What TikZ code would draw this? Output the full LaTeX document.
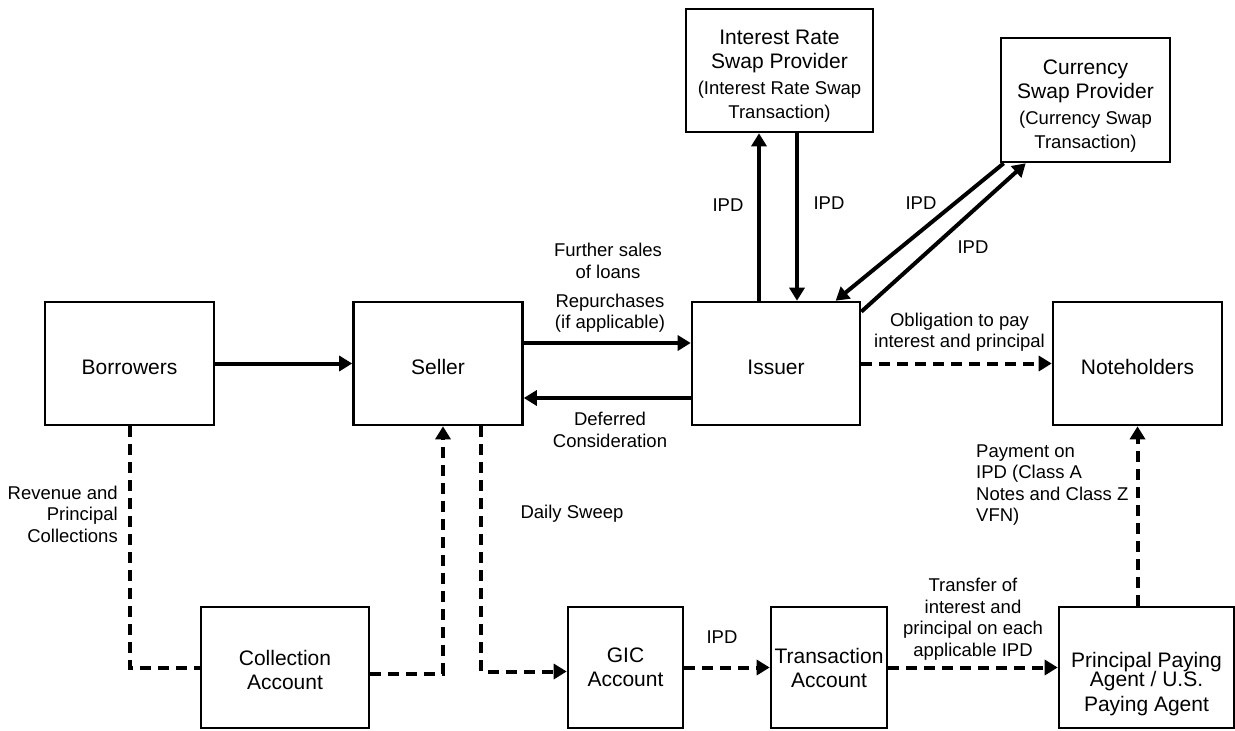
\documentclass[tikz,border=0pt]{standalone}
\usepackage{fontspec}
\setmainfont{Liberation Sans}
\usetikzlibrary{arrows.meta}
\newcommand\boxfont{\fontsize{21}{24}\selectfont}
\newcommand\lblfont{\fontsize{18.5}{21.5}\selectfont}

\begin{document}
\begin{tikzpicture}[x=1pt, y=-1pt,
    box/.style={draw, line width=2.6pt, inner sep=0pt, align=center, font=\boxfont,
        execute at begin node={\rule{0pt}{23pt}}},
    lbl/.style={font=\lblfont, align=center, inner sep=0pt},
    flow/.style={line width=4pt, -{Triangle[length=13pt,width=15pt]}},
    dline/.style={line width=4pt, dash pattern=on 11pt off 7pt},
    dflow/.style={dline, -{Triangle[length=13pt,width=15pt]}}]
    \useasboundingbox (0,0) rectangle (1235,731);

    \node[box, minimum width=169pt, minimum height=123pt] (borrowers) at (129.5, 363.5) {Borrowers};
    \node[box, minimum width=169pt, minimum height=123pt] (seller) at (438, 363.5) {Seller};
    \node[box, minimum width=168pt, minimum height=123pt] (issuer) at (776, 363.5) {Issuer};
    \node[box, minimum width=169pt, minimum height=123pt] (noteholders) at (1137.5, 363.5) {Noteholders};
    \node[box, minimum width=187pt, minimum height=123pt] (irs) at (779.5, 70.5)
        {\rule{0pt}{25pt}Interest Rate\\Swap Provider\\[2pt]\lblfont(Interest Rate Swap\\\lblfont Transaction)};
    \node[box, minimum width=169pt, minimum height=124pt] (currency) at (1085.5, 100)
        {\rule{0pt}{26pt}Currency\\Swap Provider\\[2pt]\lblfont(Currency Swap\\\lblfont Transaction)};
    \node[box, minimum width=168pt, minimum height=121pt] (collection) at (285, 667.5)
        {\rule{0pt}{21pt}Collection\\Account};
    \node[box, minimum width=115pt, minimum height=121pt] (gic) at (625.5, 667.5) {GIC\\Account};
    \node[box, minimum width=116pt, minimum height=121pt] (transaction) at (829, 667.5) {Transaction\\Account};
    \node[box, minimum width=175pt, minimum height=121pt] (ppa) at (1146.5, 667.5)
        {\rule{0pt}{48pt}Principal Paying\\[-5pt]Agent / U.S.\\[1pt]Paying Agent};

    \node[lbl] (further) at (608, 261) {Further sales\\of loans};
    \node[lbl] (repurch) at (610, 313) {Repurchases\\(if applicable)};
    \node[lbl] (deferred) at (610, 430) {Deferred\\Consideration};
    \node[lbl] (oblig) at (959.5, 332) {Obligation to pay\\interest and principal};
    \node[lbl, anchor=east, align=right] (revenue) at (118, 514) {Revenue and\\Principal\\Collections};
    \node[lbl] (sweep) at (572, 514) {Daily Sweep};
    \node[lbl, anchor=west, align=left] (payment) at (976, 485) {Payment on\\IPD (Class A\\Notes and Class Z\\VFN)};
    \node[lbl] (transfer) at (973, 619) {Transfer of\\interest and\\principal on each\\applicable IPD};
    \node[lbl] (ipdup) at (728, 205) {IPD};
    \node[lbl] (ipddown) at (829, 203) {IPD};
    \node[lbl] (ipdcurin) at (921, 203) {IPD};
    \node[lbl] (ipdcurout) at (973, 247) {IPD};
    \node[lbl] (ipdgic) at (722, 637) {IPD};

    \draw[flow] (borrowers.east) -- (seller.west);
    \draw[flow] ([yshift=20.5pt]seller.east) -- ([yshift=20.5pt]issuer.west);
    \draw[flow] ([yshift=-34.5pt]issuer.west) -- ([yshift=-34.5pt]seller.east);

    \draw[flow] ([xshift=-17pt]issuer.north) -- ([xshift=-17pt]issuer.north |- irs.south);
    \draw[flow] ([xshift=21pt]issuer.north |- irs.south) -- ([xshift=21pt]issuer.north);
    \draw[flow] ([xshift=4pt]currency.south west) -- ([xshift=145pt]issuer.north west);
    \draw[flow] ([yshift=-11pt]issuer.north east) -- ([xshift=26pt]currency.south west);

    \draw[dflow] (issuer.east) -- (noteholders.west);
    \draw[dflow] (noteholders.south |- ppa.north) -- (noteholders.south);

    \draw[dline] (borrowers.south) |- (collection.west);
    \draw[dflow] ([yshift=-6pt]collection.east) -| ([xshift=5pt]seller.south);
    \draw[dflow] ([xshift=43pt]seller.south) |- ([yshift=-4pt]gic.west);
    \draw[dflow] (gic.east) -- (transaction.west);
    \draw[dflow] (transaction.east) -- (ppa.west);
\end{tikzpicture}
\end{document}
